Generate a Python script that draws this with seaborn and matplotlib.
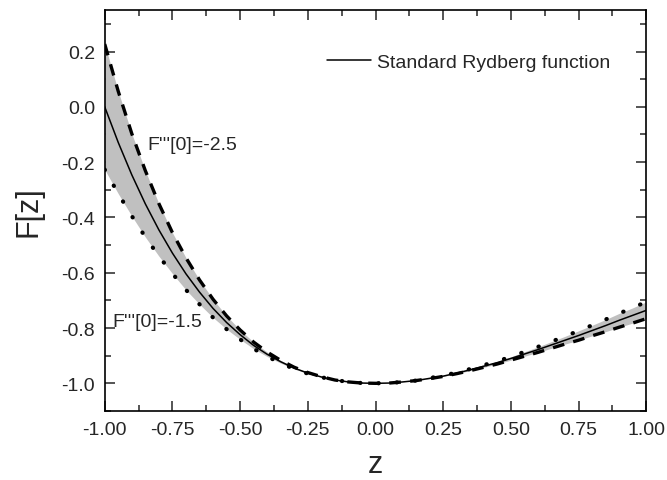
import matplotlib
matplotlib.use("Agg")
import matplotlib.pyplot as plt
import numpy as np
import pandas as pd
import seaborn as sns
from matplotlib.lines import Line2D
from matplotlib.ticker import MultipleLocator, FormatStrFormatter

# ============================
# DATA
# ============================
z = [-1.00, -0.95, -0.90, -0.85, -0.80, -0.75, -0.70, -0.65, -0.60, -0.55,
     -0.50, -0.45, -0.40, -0.35, -0.30, -0.25, -0.20, -0.15, -0.10, -0.05,
     0.00, 0.05, 0.10, 0.15, 0.20, 0.25, 0.30, 0.35, 0.40, 0.45,
     0.50, 0.55, 0.60, 0.65, 0.70, 0.75, 0.80, 0.85, 0.90, 0.95, 1.00]

# standard Rydberg function
f_standard = [0.000, -0.129, -0.246, -0.351, -0.445, -0.529, -0.604, -0.670, -0.729, -0.780,
              -0.824, -0.863, -0.895, -0.922, -0.945, -0.963, -0.977, -0.988, -0.995, -0.999,
              -1.000, -0.999, -0.995, -0.990, -0.982, -0.974, -0.963, -0.951, -0.938, -0.925,
              -0.910, -0.894, -0.878, -0.861, -0.844, -0.827, -0.809, -0.791, -0.772, -0.754, -0.736]

# F'''[0] = -2.5 (dashed)
f_upper = [0.227, 0.056, -0.097, -0.231, -0.350, -0.455, -0.546, -0.626, -0.696, -0.756,
           -0.807, -0.851, -0.887, -0.917, -0.942, -0.961, -0.976, -0.988, -0.995, -0.999,
           -1.000, -0.999, -0.995, -0.990, -0.983, -0.975, -0.965, -0.954, -0.942, -0.930,
           -0.916, -0.902, -0.888, -0.873, -0.858, -0.844, -0.828, -0.813, -0.797, -0.782, -0.766]

# F'''[0] = -1.5 (dotted)
f_lower = [-0.227, -0.314, -0.395, -0.471, -0.540, -0.603, -0.662, -0.714, -0.762, -0.804,
           -0.841, -0.875, -0.903, -0.927, -0.948, -0.965, -0.978, -0.988, -0.995, -0.999,
           -1.000, -0.999, -0.995, -0.990, -0.981, -0.972, -0.961, -0.948, -0.934, -0.920,
           -0.904, -0.886, -0.868, -0.849, -0.830, -0.810, -0.790, -0.769, -0.747, -0.727, -0.705]

x_ticks = [-1.00, -0.75, -0.50, -0.25, 0.00, 0.25, 0.50, 0.75, 1.00]
y_ticks = [-1.0, -0.8, -0.6, -0.4, -0.2, 0.0, 0.2]

df = pd.DataFrame({"z": z, "standard": f_standard, "upper": f_upper, "lower": f_lower})

# ============================
# STYLE
# ============================
sns.set_style("ticks")
plt.rcParams["font.family"] = ["Liberation Sans", "DejaVu Sans"]
plt.rcParams["axes.unicode_minus"] = False

fig = plt.figure(figsize=(6.67, 4.81), dpi=100)
ax = fig.add_axes([0.157, 0.1435, 0.812, 0.8335])

# gray band between the two variants
ax.fill_between(df["z"], df["lower"], df["upper"], color="#c0c0c0", linewidth=0, zorder=1)

sns.lineplot(data=df, x="z", y="standard", ax=ax, color="black", linewidth=1.1, zorder=3)
dash_line = sns.lineplot(data=df, x="z", y="upper", ax=ax, color="black", linewidth=2.4,
                         zorder=2).lines[-1]
dash_line.set_dashes([3.5, 2.8])
dot_line = sns.lineplot(data=df, x="z", y="lower", ax=ax, color="black", linewidth=3.0,
                        zorder=2).lines[-1]
dot_line.set_dashes([0.1, 4.3])
dot_line.set_dash_capstyle("round")

# ============================
# AXES
# ============================
ax.set_xlim(-1.0, 1.0)
ax.set_ylim(-1.1, 0.35)
ax.set_xticks(x_ticks)
ax.set_yticks(y_ticks)
ax.xaxis.set_minor_locator(MultipleLocator(0.125))
ax.yaxis.set_minor_locator(MultipleLocator(0.1))
ax.xaxis.set_major_formatter(FormatStrFormatter("%.2f"))
ax.yaxis.set_major_formatter(FormatStrFormatter("%.1f"))

ax.tick_params(which="both", direction="in", top=True, right=True, width=1.1, labelsize=14)
ax.tick_params(which="major", length=7)
ax.tick_params(which="minor", length=4.5)
ax.tick_params(axis="x", pad=7)
ax.tick_params(axis="y", pad=7)

for sp in ax.spines.values():
    sp.set_linewidth(1.2)
    sp.set_color("black")

ax.set_xlabel("z", fontsize=22, labelpad=8)
ax.set_ylabel("F[z]", fontsize=22, labelpad=13)

# legend only for the standard curve
handle = Line2D([0], [0], color="black", linewidth=1.1)
ax.legend([handle], ["Standard Rydberg function"], loc="center right",
          bbox_to_anchor=(0.934, 0.870), frameon=False, fontsize=14,
          handlelength=2.3, handletextpad=0.3, borderpad=0, borderaxespad=0)

ax.text(-0.841, -0.136, "F'''[0]=-2.5", fontsize=14, va="center", ha="left")
ax.text(-0.970, -0.776, "F'''[0]=-1.5", fontsize=14, va="center", ha="left")

fig.savefig("out.png", dpi=100)
